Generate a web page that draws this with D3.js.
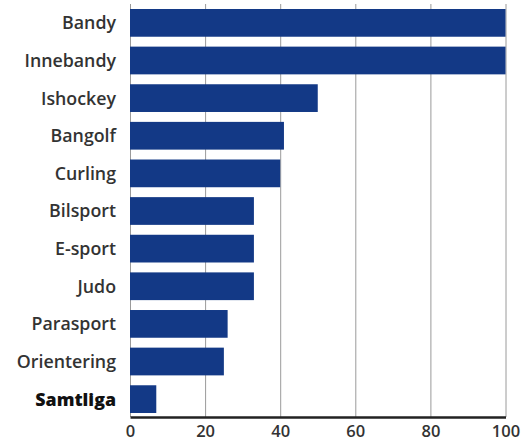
<!DOCTYPE html>
<html><head><meta charset="utf-8">
<script src="https://cdn.jsdelivr.net/npm/d3@7"></script>
<style>body{margin:0;background:#fff;} svg{display:block;}</style>
</head><body>
<svg id="c" width="528" height="442"></svg>
<script>
const categories = ["Bandy","Innebandy","Ishockey","Bangolf","Curling","Bilsport","E-sport","Judo","Parasport","Orientering","Samtliga"];
const values = [100,100,50,41,40,33,33,33,26,25,7];
const tickValues = [0,20,40,60,80,100];

const svg = d3.select("#c");
const x = d3.scaleLinear().domain([0,100]).range([130,505.5]);
const y = d3.scaleBand().domain(categories).range([9,413]).paddingInner(0.263).paddingOuter(0);

// gridlines
svg.append("g").selectAll("line").data(tickValues).join("line")
  .attr("x1",d=>x(d)+0.5).attr("x2",d=>x(d)+0.5)
  .attr("y1",4).attr("y2",417)
  .attr("stroke","#9a9a9a").attr("stroke-width",1);

// bars
svg.append("g").selectAll("rect").data(categories).join("rect")
  .attr("x",x(0)).attr("y",d=>y(d))
  .attr("width",(d,i)=>x(values[i])-x(0))
  .attr("height",y.bandwidth())
  .attr("fill","#133986");

// category labels
svg.append("g").selectAll("text").data(categories).join("text")
  .attr("x",116).attr("y",d=>y(d)+y.bandwidth()/2)
  .attr("dy","0.36em").attr("text-anchor","end")
  .attr("font-family","'Open Sans', sans-serif")
  .attr("font-size",17.8)
  .attr("font-weight",d=>d==="Samtliga"?800:600)
  .attr("fill",d=>d==="Samtliga"?"#111":"#333")
  .text(d=>d);

// x axis
const ax = svg.append("g").attr("transform","translate(0,417)")
  .call(d3.axisBottom(x).tickValues(tickValues).tickSize(0).tickPadding(8));
ax.select(".domain").attr("stroke","#222").attr("stroke-width",2.5);
ax.selectAll("text").attr("font-family","'Open Sans', sans-serif").attr("font-size",16.5)
  .attr("font-weight",600).attr("fill","#333");
</script>
</body></html>
